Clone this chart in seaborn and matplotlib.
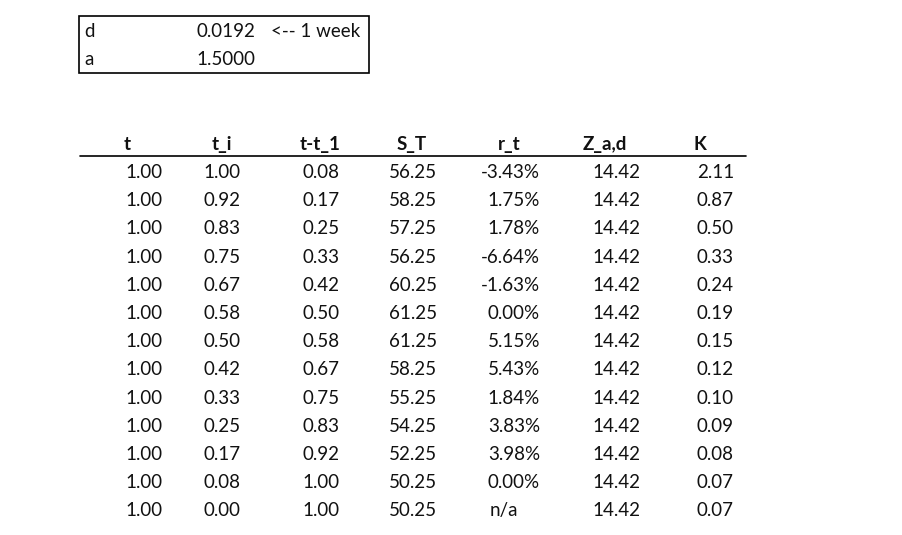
import numpy as np
import pandas as pd
import seaborn as sns
import matplotlib.pyplot as plt

# parameter box
PARAM_NAMES = ["d", "a"]
PARAM_VALUES = ["0.0192", "1.5000"]
PARAM_NOTES = ["<-- 1 week", ""]

# table
HEADERS = ["t", "t_i", "t-t_1", "S_T", "r_t", "Z_a,d", "K"]
t = [1.00] * 13
t_i = [1.00, 0.92, 0.83, 0.75, 0.67, 0.58, 0.50, 0.42, 0.33, 0.25, 0.17, 0.08, 0.00]
t_t1 = [0.08, 0.17, 0.25, 0.33, 0.42, 0.50, 0.58, 0.67, 0.75, 0.83, 0.92, 1.00, 1.00]
S_T = [56.25, 58.25, 57.25, 56.25, 60.25, 61.25, 61.25, 58.25, 55.25, 54.25, 52.25, 50.25, 50.25]
r_t = [-3.43, 1.75, 1.78, -6.64, -1.63, 0.00, 5.15, 5.43, 1.84, 3.83, 3.98, 0.00, None]
Z_ad = [14.42] * 13
K = [2.11, 0.87, 0.50, 0.33, 0.24, 0.19, 0.15, 0.12, 0.10, 0.09, 0.08, 0.07, 0.07]

df = pd.DataFrame({"t": t, "t_i": t_i, "t-t_1": t_t1, "S_T": S_T,
                   "r_t": r_t, "Z_a,d": Z_ad, "K": K})

sns.set_theme(style="white")
plt.rcParams["font.family"] = ["Lato", "DejaVu Sans"]

W, H = 903, 535
fig = plt.figure(figsize=(W / 100, H / 100), dpi=100)
ax = fig.add_axes([0, 0, 1, 1])
ax.set_xlim(0, W)
ax.set_ylim(H, 0)
ax.axis("off")

FS = 13.5
TXT = "#111111"

# parameter box
ax.add_patch(plt.Rectangle((79.5, 15.5), 290, 57, fill=False, lw=1.2,
                           edgecolor="black"))
for i, (n, v, note) in enumerate(zip(PARAM_NAMES, PARAM_VALUES, PARAM_NOTES)):
    y = 37 + 28 * i
    ax.text(84, y, n, fontsize=FS, ha="left", va="baseline", color=TXT)
    ax.text(255, y, v, fontsize=FS, ha="right", va="baseline", color=TXT)
    if note:
        ax.text(271, y, note, fontsize=FS, ha="left", va="baseline", color=TXT)

# table header
head_x = [127, 222, 320, 412, 509, 605, 700]
right_x = [163, 241, 340, 437, 540, 640, 734]
ax.plot([80, 746], [156, 156], color="black", lw=1.2)
for hx, h in zip(head_x, HEADERS):
    ax.text(hx, 150, h, fontsize=FS, fontweight="bold", ha="center",
            va="baseline", color=TXT)

row_y0, row_dy = 178, 28.2
for r, row in df.iterrows():
    y = row_y0 + r * row_dy
    for c, col in enumerate(df.columns):
        val = row[col]
        if col == "r_t":
            if pd.isna(val):
                ax.text(504, y, "n/a", fontsize=FS, ha="center",
                        va="baseline", color=TXT)
                continue
            s = f"{val:.2f}%"
        else:
            s = f"{val:.2f}"
        ax.text(right_x[c], y, s, fontsize=FS, ha="right", va="baseline",
                color=TXT)

fig.savefig("out.png", dpi=100, facecolor="white")
